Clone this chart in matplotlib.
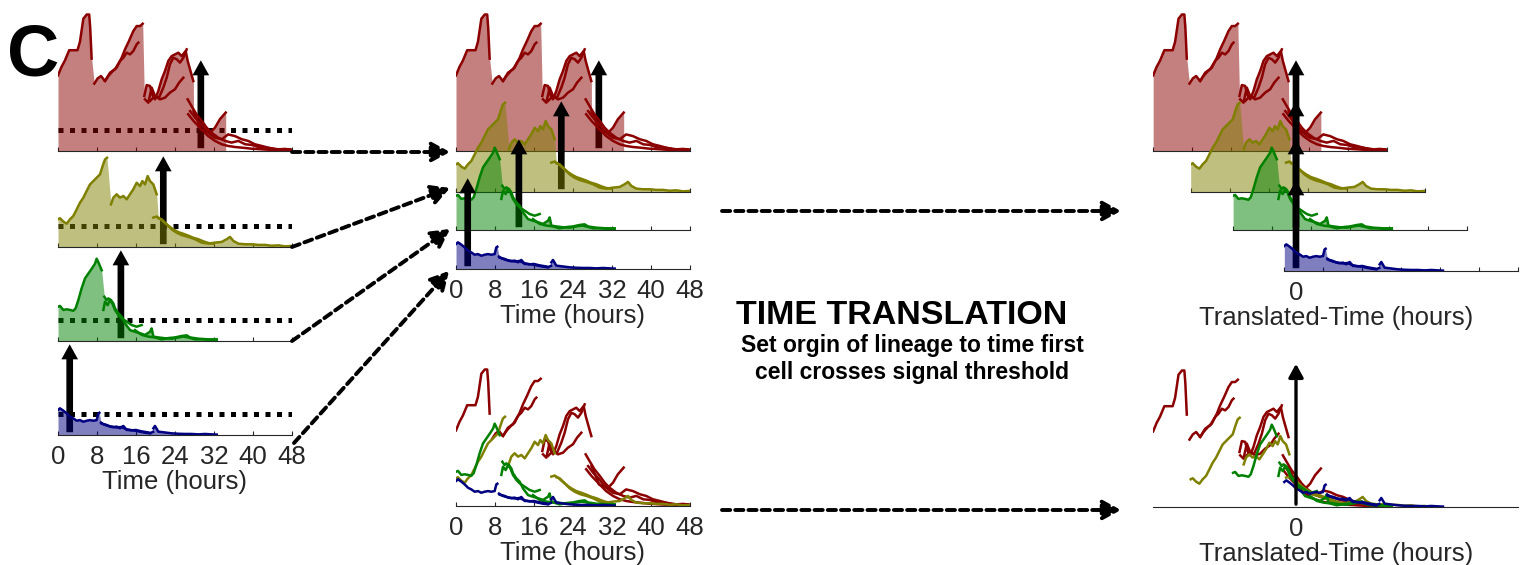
import matplotlib.pyplot as plt
from matplotlib.patches import FancyArrowPatch

plt.rcParams['font.family'] = ['Liberation Sans', 'DejaVu Sans']

# signal is in units of the detection threshold, time in hours
threshold = 1.0
hour_ticks = [0, 8, 16, 24, 32, 40, 48]
lineage_colors = ['#8b0000', '#808000', '#008000', '#000080']
crossing_hours = [29.3, 21.6, 12.9, 2.4]   # red, olive, green, blue

# red lineage
red_t1 = [0.0, 0.7, 1.4, 2.3, 3.5, 4.0, 4.5, 5.2, 5.9, 6.4, 6.6, 6.9]
red_s1 = [3.6, 4.0, 4.3, 4.8, 4.8, 4.8, 5.2, 6.3, 6.5, 6.5, 5.9, 4.4]
red_t2 = [7.45, 8.14, 8.82, 9.64, 10.32, 11.35, 12.03, 13.06, 13.74, 14.56, 15.45, 16.14, 16.82, 17.37]
red_s2 = [3.21, 3.46, 3.57, 3.33, 3.57, 3.84, 3.97, 4.44, 4.84, 5.24, 5.71, 5.95, 5.95, 6.06]
red_t3 = [9.64, 10.67, 11.69, 12.72, 13.40, 14.09, 14.77, 15.45, 16.14, 16.48]
red_s3 = [3.33, 3.73, 3.89, 4.29, 4.44, 4.68, 4.60, 4.76, 5.08, 5.16]
red_t4 = [17.71, 18.19, 18.87, 19.35, 19.90, 20.58, 21.26, 21.95, 22.63, 23.32, 24.00, 24.68, 25.37, 26.19, 26.60, 27.08, 27.76]
red_s4 = [2.62, 3.14, 3.10, 2.67, 2.46, 2.86, 3.41, 3.81, 4.29, 4.52, 4.60, 4.68, 4.52, 4.76, 4.29, 3.89, 3.33]
red_t5 = [17.85, 18.53, 19.21, 19.90, 20.72, 21.61, 22.29, 22.97, 23.66, 24.34, 25.03, 25.71, 26.39]
red_s5 = [2.46, 2.30, 3.02, 2.62, 2.54, 3.02, 3.49, 4.13, 4.44, 4.37, 4.21, 4.44, 4.84]
red_t6 = [18.87, 19.90, 20.92, 21.95, 22.97, 24.00, 24.82, 25.71]
red_s6 = [2.38, 2.62, 2.46, 2.54, 2.78, 2.94, 3.25, 3.49]
red_t7 = [27.8, 28.8, 29.3, 30.2, 31.2, 32.2, 33.2, 34.4]
red_s7 = [1.90, 1.35, 1.03, 0.92, 0.87, 1.11, 1.51, 1.83]
red_t8 = [26.6, 27.4, 28.4, 29.5, 30.5, 31.5, 32.9, 34.3, 35.6, 37.0, 38.4, 39.7, 41.1, 42.5, 43.8, 45.2, 46.6, 47.9]
red_s8 = [2.46, 2.14, 1.75, 1.43, 1.11, 0.87, 0.63, 0.48, 0.40, 0.48, 0.32, 0.29, 0.19, 0.16, 0.13, 0.08, 0.10, 0.06]
red_t9 = [27.1, 28.1, 29.1, 30.2, 31.2, 32.2, 33.6, 34.9, 36.3, 37.7, 39.0, 40.4, 41.8, 43.1, 44.5, 45.9, 47.6]
red_s9 = [1.90, 1.59, 1.35, 1.03, 0.79, 0.63, 0.56, 0.79, 0.71, 0.56, 0.48, 0.32, 0.24, 0.16, 0.08, 0.06, 0.08]
red_t10 = [26.7, 27.8, 28.8, 29.8, 30.8, 32.2, 33.6, 34.9, 36.3, 37.7, 39.7, 41.8, 43.8, 45.9, 47.6]
red_s10 = [1.75, 1.43, 1.19, 0.95, 0.71, 0.48, 0.32, 0.24, 0.19, 0.16, 0.11, 0.08, 0.05, 0.03, 0.05]

# olive lineage
olive_t1 = [0.0, 0.41, 1.09, 1.78, 2.46, 3.15, 3.83, 4.51, 5.20, 5.88, 6.56, 7.25, 7.93, 8.62, 9.16, 9.64, 10.05]
olive_s1 = [1.32, 1.37, 1.21, 1.11, 1.32, 1.48, 1.79, 2.11, 2.35, 2.67, 2.98, 3.14, 3.30, 3.46, 3.86, 4.17, 4.25]
olive_t2 = [10.87, 11.35, 12.03, 12.72, 13.40, 14.09, 14.77, 15.45, 16.14, 16.82, 17.30, 17.85, 18.39, 18.87, 19.56, 20.24]
olive_s2 = [2.03, 2.35, 2.51, 2.35, 2.43, 2.27, 2.51, 2.75, 3.06, 2.90, 3.14, 2.98, 3.38, 3.14, 2.98, 2.51]
olive_t3 = [20.58, 21.26, 21.95, 22.63, 23.32, 24.34, 25.37, 26.74, 28.10, 29.47, 30.84, 32.21, 33.57, 34.60,
            35.28, 35.97, 36.99, 38.36, 39.73, 41.09, 42.46, 43.83, 45.20, 46.56, 47.93]
olive_s3 = [1.37, 1.32, 1.16, 1.00, 0.84, 0.68, 0.57, 0.48, 0.37, 0.21, 0.16, 0.21, 0.24, 0.37,
            0.48, 0.29, 0.16, 0.13, 0.13, 0.10, 0.10, 0.06, 0.08, 0.03, 0.05]
olive_t4 = [19.56, 20.24, 20.92, 21.61, 22.29, 22.97, 23.66, 24.68, 25.71, 26.74, 27.76, 28.79, 29.81, 30.84, 31.86]
olive_s4 = [1.40, 1.45, 1.35, 1.21, 1.08, 0.95, 0.84, 0.71, 0.63, 0.54, 0.44, 0.37, 0.27, 0.19, 0.16]

# green lineage
green_t1 = [0.0, 0.41, 1.09, 1.78, 2.46, 3.15, 3.62, 4.17, 4.85, 5.54, 6.22, 6.91, 7.59, 7.93, 8.27, 8.96]
green_s1 = [1.63, 1.67, 1.48, 1.51, 1.48, 1.44, 1.56, 1.95, 2.51, 2.98, 3.21, 3.44, 3.68, 3.92, 3.76, 3.37]
green_t2 = [9.5, 9.97, 10.32, 10.87, 11.35, 11.69, 12.38, 13.06, 13.74, 14.77, 15.79, 16.82, 17.85, 18.87, 19.21,
            19.56, 20.58, 21.95, 23.32, 24.68, 25.71, 26.74, 28.10, 29.47, 30.84, 32.55]
green_s2 = [2.11, 1.95, 2.03, 1.95, 1.79, 1.56, 1.32, 1.16, 0.84, 0.52, 0.44, 0.37, 0.29, 0.44, 0.60,
            0.21, 0.17, 0.13, 0.11, 0.17, 0.21, 0.17, 0.08, 0.08, 0.06, 0.05]
green_t3 = [9.3, 9.64, 10.19, 10.67, 11.15, 11.69, 12.38, 13.06, 14.09, 15.11, 16.14, 17.16]
green_s3 = [1.48, 1.87, 1.71, 1.95, 1.79, 1.48, 1.24, 1.08, 0.92, 0.76, 0.68, 0.76]
green_t4 = [15.79, 17.16, 18.53, 19.90, 21.26, 22.63, 24.0, 25.37, 26.39, 27.08, 28.79, 30.84, 32.55]
green_s4 = [0.52, 0.29, 0.21, 0.17, 0.08, 0.14, 0.17, 0.24, 0.27, 0.17, 0.11, 0.08, 0.08]

# blue lineage
blue_t1 = [0.0, 0.41, 1.09, 1.78, 2.46, 3.15, 3.83, 4.51, 5.20, 5.88, 6.56, 7.25, 7.93, 8.27, 8.48]
blue_s1 = [1.19, 1.27, 1.16, 1.03, 0.87, 0.79, 0.68, 0.71, 0.63, 0.68, 0.71, 0.68, 0.71, 1.03, 1.06]
blue_t2 = [8.82, 9.30, 9.98, 10.67, 11.35, 12.03, 12.72, 13.40, 14.09, 14.77, 15.79, 16.82, 17.85, 18.87]
blue_s2 = [0.59, 0.52, 0.48, 0.40, 0.37, 0.40, 0.32, 0.43, 0.24, 0.24, 0.21, 0.16, 0.11, 0.08]
blue_t3 = [8.9, 10.0, 11.0, 12.0, 13.0, 14.0, 15.0, 16.0, 17.0, 18.0, 19.0, 19.5]
blue_s3 = [0.55, 0.45, 0.40, 0.36, 0.38, 0.28, 0.22, 0.24, 0.18, 0.14, 0.10, 0.15]
blue_t4 = [19.56, 19.90, 20.58, 21.26, 22.29, 23.32, 24.68, 26.05, 27.42, 28.79, 30.15, 31.52, 32.55]
blue_s4 = [0.32, 0.43, 0.16, 0.14, 0.11, 0.08, 0.06, 0.05, 0.05, 0.03, 0.05, 0.03, 0.02]

red_traces = [(red_t1, red_s1), (red_t2, red_s2), (red_t3, red_s3), (red_t4, red_s4), (red_t5, red_s5),
              (red_t6, red_s6), (red_t7, red_s7), (red_t8, red_s8), (red_t9, red_s9), (red_t10, red_s10)]
olive_traces = [(olive_t1, olive_s1), (olive_t2, olive_s2), (olive_t3, olive_s3), (olive_t4, olive_s4)]
green_traces = [(green_t1, green_s1), (green_t2, green_s2), (green_t3, green_s3), (green_t4, green_s4)]
blue_traces = [(blue_t1, blue_s1), (blue_t2, blue_s2), (blue_t3, blue_s3), (blue_t4, blue_s4)]

# traces that make up the ancestry path shaded under each lineage
red_path = [0, 1, 3, 6]
olive_path = [0, 1, 2]
green_path = [0, 1]
blue_path = [0, 1, 3]

lineages = [(red_traces, red_path), (olive_traces, olive_path),
            (green_traces, green_path), (blue_traces, blue_path)]

# ---- layout (pixels) ----
W, H = 1524, 565
PX_H = 4.875     # pixels per hour
PX_S = 21.0      # pixels per threshold unit
S_MAX = 7.2
GREY = '#262626'
ARROW_LEN = 4.45
FS = 18.5

fig = plt.figure(figsize=(W / 100, H / 100), dpi=100)


def add_axes_px(left, base, width):
    return fig.add_axes([left / W, (H - base) / H, width / W, S_MAX * PX_S / H])


def style_axis(ax, xlim, ticks, show_labels, tick_len=3):
    ax.set_xlim(*xlim)
    ax.set_ylim(0, S_MAX)
    ax.patch.set_visible(False)
    for side in ('top', 'right', 'left'):
        ax.spines[side].set_visible(False)
    ax.spines['bottom'].set_color(GREY)
    ax.spines['bottom'].set_linewidth(0.8)
    ax.set_yticks([])
    ax.set_xticks(ticks)
    ax.tick_params(axis='x', direction='in', length=tick_len, width=0.8, color=GREY,
                   labelcolor=GREY, labelsize=FS, pad=7.5, labelbottom=show_labels)


def set_label(ax, text):
    ax.set_xlabel(text, fontsize=FS, color=GREY, labelpad=0.5)


def draw_lineage(ax, traces, path, color, offset, cross, fill=True, arrow=True, dotted=False):
    if arrow:
        ax.add_patch(FancyArrowPatch((cross - offset, 0), (cross - offset, ARROW_LEN),
                                     arrowstyle='simple,head_length=0.45,head_width=0.5,tail_width=0.2',
                                     mutation_scale=24, color='k', lw=0, zorder=1))
    if dotted:
        ax.axhline(threshold, color='k', lw=3.6, ls=(0, (1, 1.3)), dash_capstyle='butt', zorder=1.5)
    if fill:
        pt, ps = [], []
        for i in path:
            pt += traces[i][0]
            ps += traces[i][1]
        ax.fill_between([t - offset for t in pt], 0, ps, color=color, alpha=0.5, lw=0, zorder=2)
    for t, s in traces:
        ax.plot([v - offset for v in t], s, color=color, lw=1.8, zorder=3)


# left: lineages stacked apart with threshold
left_bases = [151, 247, 341, 435]
for k, (traces, path) in enumerate(lineages):
    ax = add_axes_px(58, left_bases[k], 48 * PX_H)
    style_axis(ax, (0, 48), hour_ticks, k == 3)
    draw_lineage(ax, traces, path, lineage_colors[k], 0, crossing_hours[k], dotted=True)
    if k == 3:
        set_label(ax, 'Time (hours)')

# middle top: lineages overlapped
mid_bases = [151, 192, 230, 269]
for k, (traces, path) in enumerate(lineages):
    ax = add_axes_px(456, mid_bases[k], 48 * PX_H)
    style_axis(ax, (0, 48), hour_ticks, k == 3)
    draw_lineage(ax, traces, path, lineage_colors[k], 0, crossing_hours[k])
    if k == 3:
        set_label(ax, 'Time (hours)')

# right top: lineages shifted to their threshold crossing
ZERO_X = 1296
right_bases = [151, 192, 230, 271]
for k, (traces, path) in enumerate(lineages):
    tc = crossing_hours[k]
    ax = add_axes_px(ZERO_X - tc * PX_H, right_bases[k], 48 * PX_H)
    style_axis(ax, (-tc, 48 - tc), [h - tc for h in hour_ticks], False)
    draw_lineage(ax, traces, path, lineage_colors[k], tc, tc)

t_lo = -crossing_hours[0]
t_hi = 48 - crossing_hours[3]
ax = add_axes_px(ZERO_X + t_lo * PX_H, right_bases[3], (t_hi - t_lo) * PX_H)
style_axis(ax, (t_lo, t_hi), [0], True, tick_len=0)
ax.spines['bottom'].set_visible(False)
set_label(ax, 'Translated-Time (hours)')

# bottom middle: raw traces together
ax = add_axes_px(456, 506, 48 * PX_H)
style_axis(ax, (0, 48), hour_ticks, True)
for k, (traces, path) in enumerate(lineages):
    draw_lineage(ax, traces, path, lineage_colors[k], 0, 0, fill=False, arrow=False)
set_label(ax, 'Time (hours)')

# bottom right: translated traces together
ax = add_axes_px(ZERO_X + t_lo * PX_H, 507, (t_hi - t_lo) * PX_H)
style_axis(ax, (t_lo, t_hi), [0], True, tick_len=0)
for k, (traces, path) in enumerate(lineages):
    tc = crossing_hours[k]
    draw_lineage(ax, traces, path, lineage_colors[k], tc, tc, fill=False, arrow=False)
ax.add_patch(FancyArrowPatch((0, 0), (0, 6.95), arrowstyle='-|>,head_length=0.4,head_width=0.22',
                             mutation_scale=20, color='k', lw=2.4, zorder=5))
set_label(ax, 'Translated-Time (hours)')


# dashed connectors between panels
def fig_xy(x, y):
    return (x / W, 1 - y / H)


connectors = [((292, 152), (450, 152)), ((292, 247), (450, 188)), ((292, 341), (450, 229)),
              ((294, 443), (449, 271)), ((722, 211), (1121, 211)), ((722, 510), (1121, 510))]
for a, b in connectors:
    fig.add_artist(FancyArrowPatch(fig_xy(*a), fig_xy(*b), transform=fig.transFigure,
                                   arrowstyle='-|>,head_length=0.55,head_width=0.3', mutation_scale=20,
                                   color='k', lw=2.8, ls=(0, (2.1, 1.3)), shrinkA=0, shrinkB=0))

fig.text(33 / W, 1 - 75 / H, 'C', fontsize=52, fontweight='bold', ha='center', va='baseline')
fig.text(902 / W, 1 - 324 / H, 'TIME TRANSLATION', fontsize=24.5, fontweight='bold', ha='center', va='baseline')
fig.text(912 / W, 1 - 352 / H, 'Set orgin of lineage to time first', fontsize=16.5, fontweight='bold',
         ha='center', va='baseline')
fig.text(912 / W, 1 - 379 / H, 'cell crosses signal threshold', fontsize=16.5, fontweight='bold',
         ha='center', va='baseline')

fig.savefig('out.png', dpi=100)
